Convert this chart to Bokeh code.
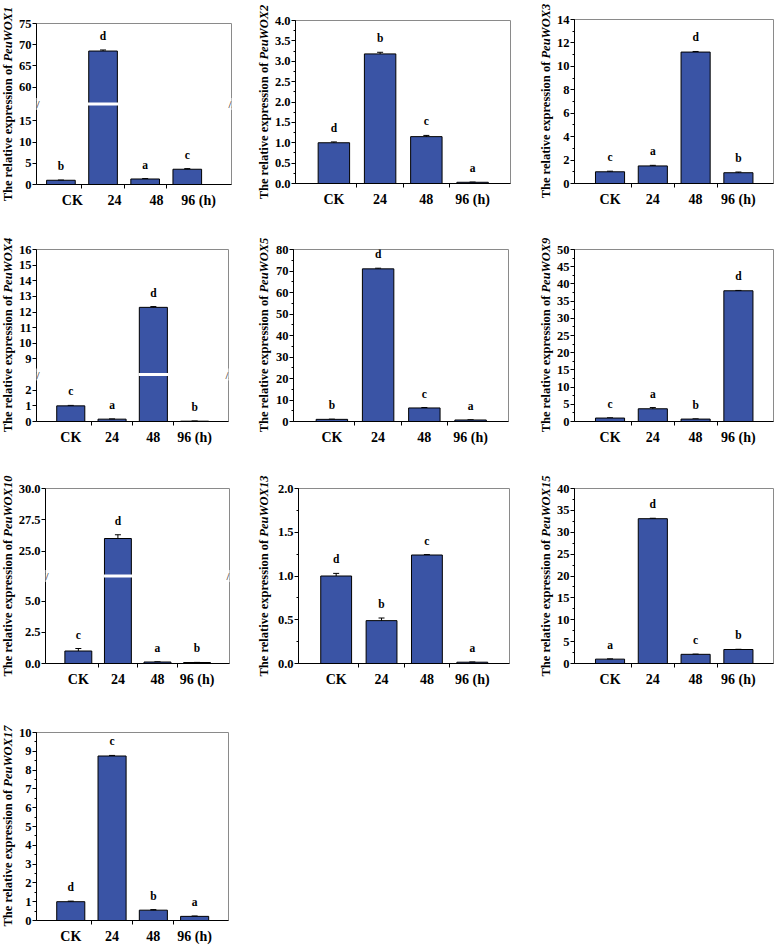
from bokeh.plotting import figure
from bokeh.layouts import row, column
from bokeh.models import (ColumnDataSource, FixedTicker, SingleIntervalTicker, Label, LabelSet,
                          Whisker, TeeHead, Range1d, NumeralTickFormatter, Div)
from bokeh.core.properties import value
from bokeh.embed import file_html
from bokeh.resources import INLINE

# ---------------------------------------------------------------- data
TIMEPOINTS = ["CK", "24", "48", "96 (h)"]

WOX1_MEAN = [1.0, 68.5, 1.3, 3.6]
WOX1_SD = [0.05, 0.25, 0.1, 0.15]
WOX1_SIG = ["b", "d", "a", "c"]
WOX1_TICKS = [0, 5, 10, 15, 60, 65, 70, 75]

WOX2_MEAN = [1.0, 3.18, 1.15, 0.03]
WOX2_SD = [0.02, 0.04, 0.03, 0.005]
WOX2_SIG = ["d", "b", "c", "a"]

WOX3_MEAN = [1.0, 1.5, 11.22, 0.92]
WOX3_SD = [0.05, 0.05, 0.05, 0.06]
WOX3_SIG = ["c", "a", "d", "b"]

WOX4_MEAN = [1.0, 0.15, 12.3, 0.02]
WOX4_SD = [0.03, 0.01, 0.05, 0.003]
WOX4_SIG = ["c", "a", "d", "b"]
WOX4_TICKS = [0, 1, 2, 9, 10, 11, 12, 13, 14, 15, 16]

WOX5_MEAN = [1.0, 71.0, 6.3, 0.7]
WOX5_SD = [0.1, 0.3, 0.2, 0.05]
WOX5_SIG = ["b", "d", "c", "a"]

WOX9_MEAN = [1.0, 3.7, 0.7, 38.0]
WOX9_SD = [0.05, 0.35, 0.05, 0.1]
WOX9_SIG = ["c", "a", "b", "d"]

WOX10_MEAN = [1.0, 26.0, 0.12, 0.08]
WOX10_SD = [0.2, 0.3, 0.01, 0.01]
WOX10_SIG = ["c", "d", "a", "b"]
WOX10_TICKS = [0.0, 2.5, 5.0, 25.0, 27.5, 30.0]

WOX13_MEAN = [1.0, 0.49, 1.24, 0.015]
WOX13_SD = [0.03, 0.03, 0.005, 0.002]
WOX13_SIG = ["d", "b", "c", "a"]

WOX15_MEAN = [1.0, 33.1, 2.1, 3.2]
WOX15_SD = [0.05, 0.1, 0.05, 0.05]
WOX15_SIG = ["a", "d", "c", "b"]

WOX17_MEAN = [1.0, 8.75, 0.55, 0.22]
WOX17_SD = [0.03, 0.03, 0.03, 0.02]
WOX17_SIG = ["d", "c", "b", "a"]

# ---------------------------------------------------------------- style
SERIF = "Liberation Serif"
BAR_COLOR = "#3a54a5"
Y_TITLE = "The relative expression of"
TITLE_SIZE = 12.5
TITLE_STRIP = 15          # width of the strip that carries each rotated y title
TITLE_CENTER = 8          # x of the title's centre line inside that strip


def style_axes(p, label_pos):
    for ax in (p.xaxis[0], p.yaxis[0]):
        ax.axis_line_color = "black"
        ax.axis_line_width = 1
        ax.major_tick_line_color = "black"
        ax.minor_tick_line_color = "black"
        ax.major_label_text_font = SERIF
        ax.major_label_text_font_style = "bold"
        ax.major_label_text_color = "black"
    xa = p.xaxis[0]
    xa.ticker = FixedTicker(ticks=label_pos, minor_ticks=[1.5, 2.5, 3.5])
    xa.major_label_overrides = {pos: lab for pos, lab in zip(label_pos, TIMEPOINTS)}
    xa.major_tick_in = 0
    xa.major_tick_out = 0
    xa.minor_tick_in = 0
    xa.minor_tick_out = 4
    xa.major_label_text_font_size = "14px"
    xa.major_label_standoff = 4
    ya = p.yaxis[0]
    ya.major_tick_in = 0
    ya.major_tick_out = 4
    ya.minor_tick_in = 0
    ya.minor_tick_out = 2
    ya.major_label_text_font_size = "12.5px"
    ya.major_label_standoff = 1


def title_strip(gene, frame, cell):
    """Narrow strip with the rotated y title; the gene name is set in italics."""
    fx0, fy0, fx1, fy1 = frame
    cx0, cy0, cx1, cy1 = cell
    h = cy1 - cy0
    yc = (fy0 + fy1) / 2.0 - cy0
    html = (
        f'<div style="position:relative;width:{TITLE_STRIP}px;height:{h}px;">'
        f'<span style="position:absolute;left:{TITLE_CENTER}px;top:{yc}px;'
        f'transform:translate(-50%,-50%) rotate(-90deg);white-space:nowrap;'
        f"font-family:'{SERIF}';font-weight:bold;font-size:{TITLE_SIZE}px;"
        f'line-height:1;color:black;">'
        f'{Y_TITLE} <i>{gene}</i></span></div>'
    )
    return Div(text=html, width=TITLE_STRIP, height=h, margin=0)


def build_panel(gene, mean, sd, sig, frame, cell, y_max, ticks=None, step=None, minor=2,
                fmt="0", brk=None, x_span=(0.17, 4.82), label_shift=0.0):
    fx0, fy0, fx1, fy1 = frame
    cx0, cy0, cx1, cy1 = cell

    if brk:
        lo_max, hi_min = brk
        shift = hi_min - lo_max

        def fold(v):
            return v if v <= lo_max else v - shift
    else:
        def fold(v):
            return v

    xs, xe = x_span
    p = figure(width=cx1 - cx0 - TITLE_STRIP, height=cy1 - cy0, title=None,
               x_range=Range1d(xs, xe), y_range=Range1d(0, fold(y_max)),
               output_backend="svg", toolbar_location=None,
               min_border_left=fx0 - cx0 - TITLE_STRIP, min_border_right=cx1 - fx1,
               min_border_top=fy0 - cy0, min_border_bottom=cy1 - fy1)
    p.xgrid.visible = False
    p.ygrid.visible = False
    p.outline_line_color = "#8a8a8a"
    p.outline_line_width = 1
    p.background_fill_color = "white"
    p.border_fill_color = "white"

    xpos = [i + 1 for i in range(len(mean))]
    src = ColumnDataSource(dict(
        x=xpos,
        top=[fold(m) for m in mean],
        upper=[fold(m + s) for m, s in zip(mean, sd)],
        lower=[fold(max(m - s, 0)) for m, s in zip(mean, sd)],
        sig=sig,
    ))
    p.vbar(x="x", top="top", width=0.68, source=src,
           fill_color=BAR_COLOR, line_color="black", line_width=1)
    p.add_layout(Whisker(source=src, base="x", upper="upper", lower="lower",
                         line_color="black", line_width=1,
                         upper_head=TeeHead(size=6, line_width=1, line_color="black"),
                         lower_head=TeeHead(size=6, line_width=1, line_color="black")))
    p.add_layout(LabelSet(source=src, x="x", y="upper", text="sig", y_offset=8,
                          text_align="center", text_baseline="bottom",
                          text_font=value(SERIF), text_font_style="bold",
                          text_font_size="11.5px", text_color="black"))

    label_pos = [x + label_shift for x in xpos]
    style_axes(p, label_pos)

    ya = p.yaxis[0]
    if brk:
        ya.ticker = FixedTicker(ticks=[fold(t) for t in ticks])
        ya.major_label_overrides = {fold(t): (f"{t:.1f}" if fmt == "0.0" else f"{t:.0f}")
                                    for t in ticks}
        # white cut through the bars that cross the break
        cut_x = [x for x, m in zip(xpos, mean) if m > hi_min]
        if cut_x:
            p.rect(x=cut_x, y=lo_max, width=0.72, height=3, height_units="screen",
                   fill_color="white", line_color=None)
        for bx in (xs, xe):
            p.add_layout(Label(x=bx, y=lo_max, text="//", text_align="center",
                               text_baseline="middle", text_font=SERIF,
                               text_font_size="11px", text_color="black",
                               background_fill_color="white"))
    else:
        ya.ticker = SingleIntervalTicker(interval=step, num_minor_ticks=minor)
        ya.formatter = NumeralTickFormatter(format=fmt)

    return row(title_strip(gene, frame, cell), p, spacing=0)


# grid cells (x0, y0, x1, y1) and plot frames inside them
COLS = [(0, 256), (256, 538), (538, 774)]
ROWS = [(0, 238), (238, 470), (470, 708), (708, 948)]


def cell(r, c):
    return (COLS[c][0], ROWS[r][0], COLS[c][1], ROWS[r][1])


p1 = build_panel("PeuWOX1", WOX1_MEAN, WOX1_SD, WOX1_SIG, (32, 23, 231, 184), cell(0, 0),
                 y_max=75, ticks=WOX1_TICKS, brk=(19, 56), x_span=(0.42, 5.05), label_shift=0.27)
p2 = build_panel("PeuWOX2", WOX2_MEAN, WOX2_SD, WOX2_SIG, (290, 20, 510, 183), cell(0, 1),
                 y_max=4.0, step=0.5, minor=2, fmt="0.0")
p3 = build_panel("PeuWOX3", WOX3_MEAN, WOX3_SD, WOX3_SIG, (570, 19, 773, 183), cell(0, 2),
                 y_max=14, step=2, minor=2)
p4 = build_panel("PeuWOX4", WOX4_MEAN, WOX4_SD, WOX4_SIG, (30, 249, 228, 421), cell(1, 0),
                 y_max=16, ticks=WOX4_TICKS, brk=(3, 8))
p5 = build_panel("PeuWOX5", WOX5_MEAN, WOX5_SD, WOX5_SIG, (293, 249, 508, 421), cell(1, 1),
                 y_max=80, step=10, minor=2)
p6 = build_panel("PeuWOX9", WOX9_MEAN, WOX9_SD, WOX9_SIG, (574, 249, 773, 421), cell(1, 2),
                 y_max=50, step=5, minor=2)
p7 = build_panel("PeuWOX10", WOX10_MEAN, WOX10_SD, WOX10_SIG, (39, 488, 229, 663), cell(2, 0),
                 y_max=30, ticks=WOX10_TICKS, brk=(7, 23), fmt="0.0")
p8 = build_panel("PeuWOX13", WOX13_MEAN, WOX13_SD, WOX13_SIG, (298, 488, 509, 663), cell(2, 1),
                 y_max=2.0, step=0.5, minor=2, fmt="0.0")
p9 = build_panel("PeuWOX15", WOX15_MEAN, WOX15_SD, WOX15_SIG, (574, 488, 773, 663), cell(2, 2),
                 y_max=40, step=5, minor=2)
p10 = build_panel("PeuWOX17", WOX17_MEAN, WOX17_SD, WOX17_SIG, (31, 732, 228, 920), cell(3, 0),
                  y_max=10, step=1, minor=2)

layout = column(row(p1, p2, p3, spacing=0), row(p4, p5, p6, spacing=0),
                row(p7, p8, p9, spacing=0), row(p10, spacing=0), spacing=0)

open("out.html", "w").write(file_html(layout, INLINE))
